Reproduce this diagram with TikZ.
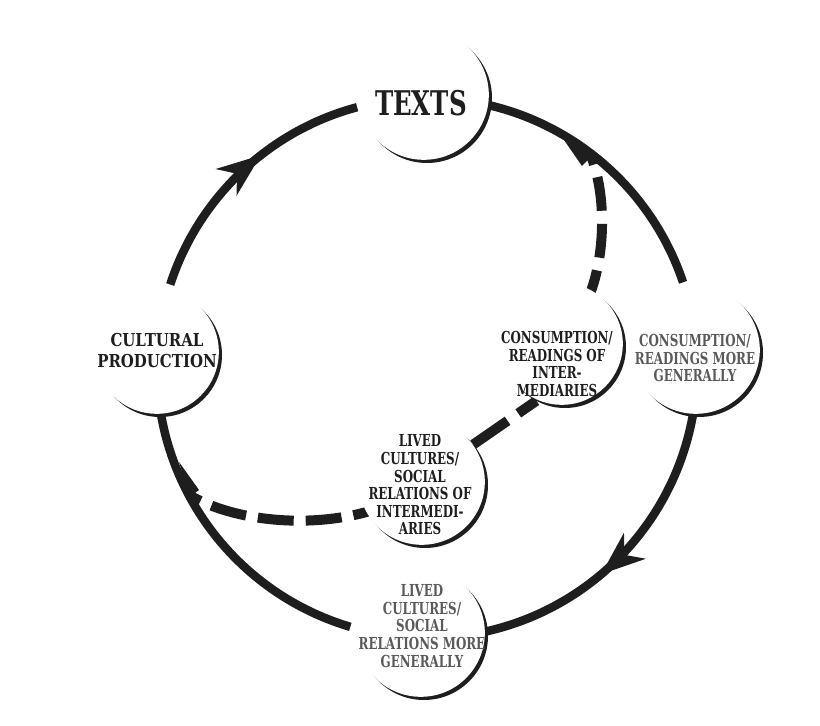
\documentclass[tikz,border=0pt]{standalone}
\usepackage{fontspec}
\setmainfont{DejaVu Serif}[FakeStretch=0.78]
\newfontfamily\narrowfont{DejaVu Serif}[FakeStretch=0.72]
\newfontfamily\cpfont{DejaVu Serif}[FakeStretch=0.84]
\usetikzlibrary{arrows.meta,decorations.markings,calc}
\definecolor{ink}{HTML}{1E1E1E}
\definecolor{lightink}{HTML}{5A5A5A}
\newcommand\crescentat[2]{%
  \fill[ink] (#1) circle[radius=#2];
  \fill[white] ($(#1)+(135:4.5pt)$) circle[radius=#2];}
\begin{document}
\begin{tikzpicture}[x=1pt,y=1pt,
  ringline/.style={line width=8.5pt, draw=ink},
  dashline/.style={line width=10pt, draw=ink},
  spot/.style={circle, minimum size=#1, inner sep=0pt, outer sep=0pt},
  txtbold/.style={align=center, text=ink, inner sep=0pt,
     font=\narrowfont\bfseries\fontsize{16.5}{17.6}\selectfont},
  txtlight/.style={align=center, text=lightink, inner sep=0pt,
     font=\narrowfont\bfseries\fontsize{16.5}{17.6}\selectfont},
  bigarrow/.style={postaction={decorate}, decoration={markings,
     mark=at position #1 with {\arrow{Stealth[length=44pt,width=34pt,inset=14pt,line width=0pt]}}}}
]
\useasboundingbox (0,0) rectangle (820,726);
\fill[white] (0,0) rectangle (820,726);

% ring centre and named points on the ring
\coordinate (O) at (427,358);
\coordinate (r162) at ($(O)+(162:270pt)$);
\coordinate (r85)  at ($(O)+(85:270pt)$);
\coordinate (r3)   at ($(O)+(3:270pt)$);
\coordinate (r253) at ($(O)+(253.5:270pt)$);
\coordinate (r53)  at ($(O)+(53:270pt)$);
\coordinate (r208) at ($(O)+(208:270pt)$);

% node discs (named)
\node[spot=130pt] (texts) at (427,628) {};
\node[spot=124pt] (cp)    at (160,371) {};
\node[spot=128pt] (cg)    at (699,373) {};
\node[spot=128pt] (lg)    at (424,90)  {};
\node[spot=122pt] (ci)    at (565,379) {};
\node[spot=126pt] (li)    at (425,241) {};

% main ring
\draw[ringline, bigarrow=0.596] (r162) arc[start angle=162, end angle=105, radius=270pt];
\draw[ringline] (r85) arc[start angle=85, end angle=18.5, radius=270pt];
\draw[ringline, bigarrow=0.58] (r3) arc[start angle=3, end angle=-88, radius=270pt];
\draw[ringline] (r253) arc[start angle=253.5, end angle=182, radius=270pt];

% dashed path through the intermediaries
\draw[dashline, dash pattern=on 34pt off 13pt, dash phase=21pt]
  (r53) .. controls (606,536) and (606,476) .. (ci.65);
\draw[dashline, dash pattern=on 22pt off 13pt on 80pt off 0pt]
  (ci.-118) -- (li.40);
\draw[dashline, dash pattern=on 36pt off 12pt, dash phase=21pt]
  (li.205) .. controls (310,198) and (235,204) .. (r208);
% junction flares
\fill[ink] (564,586) -- (591,569) -- (582,560) -- cycle;
\fill[ink] (179,264) -- (199,236) -- (190,229) -- cycle;

% crescents
\crescentat{texts.center}{65pt}
\crescentat{cp.center}{62pt}
\crescentat{cg.center}{64pt}
\crescentat{lg.center}{64pt}
\crescentat{ci.center}{61pt}
\crescentat{li.center}{63pt}

% texts
\node[txtbold, font=\narrowfont\bfseries\fontsize{34}{40}\selectfont] (textsT) at (421,623) {TEXTS};
\node[txtbold, font=\cpfont\bfseries\fontsize{17.8}{21}\selectfont] (cpT) at (157,375) {CULTURAL\\PRODUCTION};
\node[txtbold] (ciT) at (557,362) {CONSUMPTION/\\READINGS OF\\INTER-\\MEDIARIES};
\node[txtlight] (cgT) at (695,368) {CONSUMPTION/\\READINGS MORE\\GENERALLY};
\node[txtbold] (liT) at (420,241) {LIVED\\CULTURES/\\SOCIAL\\RELATIONS OF\\INTERMEDI-\\ARIES};
\node[txtlight] (lgT) at (422,100) {LIVED\\CULTURES/\\SOCIAL\\RELATIONS MORE\\GENERALLY};
\end{tikzpicture}
\end{document}
